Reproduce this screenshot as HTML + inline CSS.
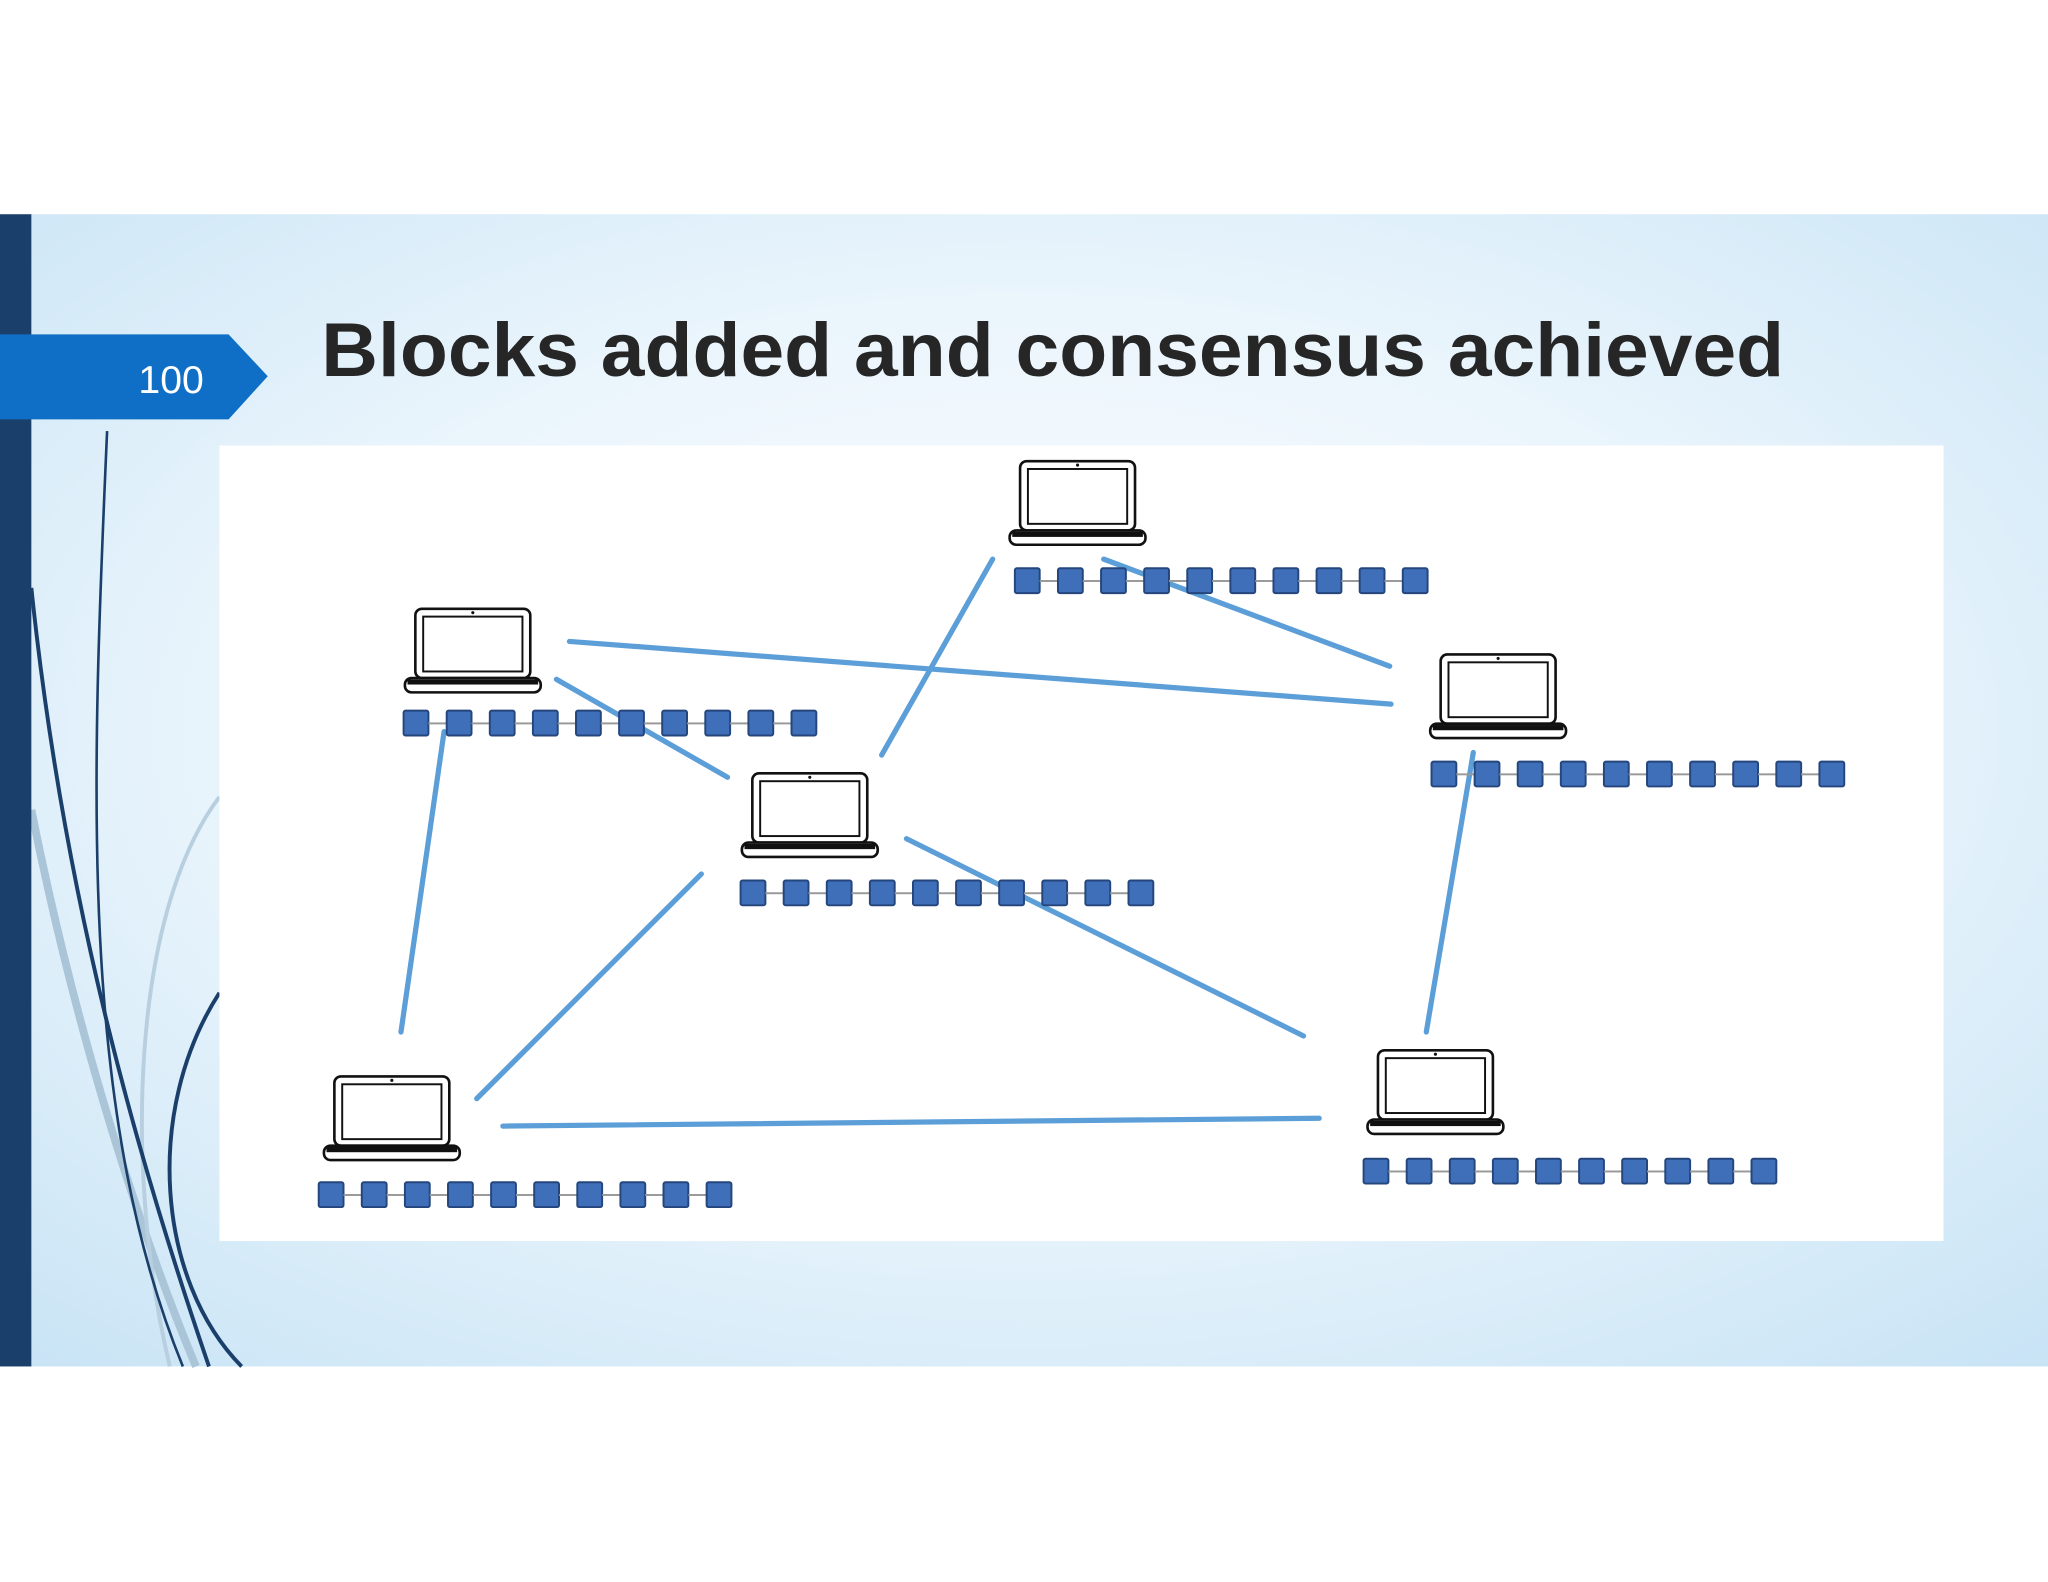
<!DOCTYPE html>
<html><head><meta charset="utf-8"><style>
html,body{margin:0;padding:0;background:#fff}
svg{display:block}
</style></head><body>
<svg width="2048" height="1582" viewBox="0 0 1568 1211" preserveAspectRatio="none" xmlns="http://www.w3.org/2000/svg">
<defs>
<radialGradient id="bg" cx="0.5" cy="0.45" r="0.75">
<stop offset="0" stop-color="#ffffff"/>
<stop offset="0.5" stop-color="#eaf5fc"/>
<stop offset="1" stop-color="#c7e3f5"/>
</radialGradient>
<g id="lap">
<rect x="9" y="1" width="88" height="53" rx="5" fill="#fff" stroke="#111" stroke-width="2"/>
<rect x="15" y="7" width="76" height="42" fill="#fff" stroke="#111" stroke-width="1.5"/>
<circle cx="53" cy="4" r="1.2" fill="#111"/>
<rect x="1" y="54" width="104" height="11" rx="5" fill="#fff" stroke="#111" stroke-width="2"/>
<rect x="3" y="55" width="100" height="4" fill="#111"/>
</g>
<g id="sq"><rect x="0" y="0" width="19" height="19" rx="1.5" fill="#3f6fb8" stroke="#24467c" stroke-width="1.5"/><rect x="19" y="9" width="14" height="1.5" fill="#999"/></g>
<g id="chain">
<use href="#sq" x="0"/><use href="#sq" x="33"/><use href="#sq" x="66"/><use href="#sq" x="99"/><use href="#sq" x="132"/><use href="#sq" x="165"/><use href="#sq" x="198"/><use href="#sq" x="231"/><use href="#sq" x="264"/>
<rect x="297" y="0" width="19" height="19" rx="1.5" fill="#3f6fb8" stroke="#24467c" stroke-width="1.5"/>
</g>
</defs>
<rect x="0" y="164" width="1568" height="882" fill="url(#bg)"/>
<g fill="none">
<path d="M24 620 C60 800 110 950 150 1046" stroke="#aac4d8" stroke-width="6"/>
<path d="M168 610 C100 700 95 900 130 1046" stroke="#b8cfe0" stroke-width="3"/>
<path d="M24 450 C50 700 110 900 160 1046" stroke="#1a3f6b" stroke-width="3"/>
<path d="M82 330 C70 600 60 850 140 1046" stroke="#1a3f6b" stroke-width="2"/>
<path d="M168 760 C110 850 120 980 185 1046" stroke="#1a3f6b" stroke-width="3"/>
</g>
<rect x="0" y="164" width="24" height="882" fill="#1a3f6b"/>
<polygon points="0,256 175,256 205,288 175,321 0,321" fill="#0f6fc6"/>
<text x="131" y="301" font-family="Liberation Sans, sans-serif" font-size="30" fill="#fff" text-anchor="middle">100</text>
<text x="246" y="288" font-family="Liberation Sans, sans-serif" font-weight="bold" font-size="58" fill="#262626" textLength="1120" lengthAdjust="spacingAndGlyphs">Blocks added and consensus achieved</text>
<rect x="168" y="341" width="1320" height="609" fill="#fff"/>
<g stroke="#4a94d4" stroke-width="4" stroke-linecap="round" opacity="0.9">
<line x1="436" y1="491" x2="1065" y2="539"/>
<line x1="426" y1="520" x2="557" y2="595"/>
<line x1="760" y1="428" x2="675" y2="578"/>
<line x1="845" y1="428" x2="1064" y2="510"/>
<line x1="340" y1="560" x2="307" y2="790"/>
<line x1="1128" y1="576" x2="1092" y2="790"/>
<line x1="694" y1="642" x2="998" y2="793"/>
<line x1="537" y1="669" x2="365" y2="841"/>
<line x1="385" y1="862" x2="1010" y2="856"/>
</g>
<use href="#lap" x="772" y="352"/>
<use href="#lap" x="309" y="465"/>
<use href="#lap" x="567" y="591"/>
<use href="#lap" x="1094" y="500"/>
<use href="#lap" x="247" y="823"/>
<use href="#lap" x="1046" y="803"/>
<use href="#chain" x="777" y="435"/>
<use href="#chain" x="309" y="544"/>
<use href="#chain" x="567" y="674"/>
<use href="#chain" x="1096" y="583"/>
<use href="#chain" x="244" y="905"/>
<use href="#chain" x="1044" y="887"/>
</svg>
</body></html>
